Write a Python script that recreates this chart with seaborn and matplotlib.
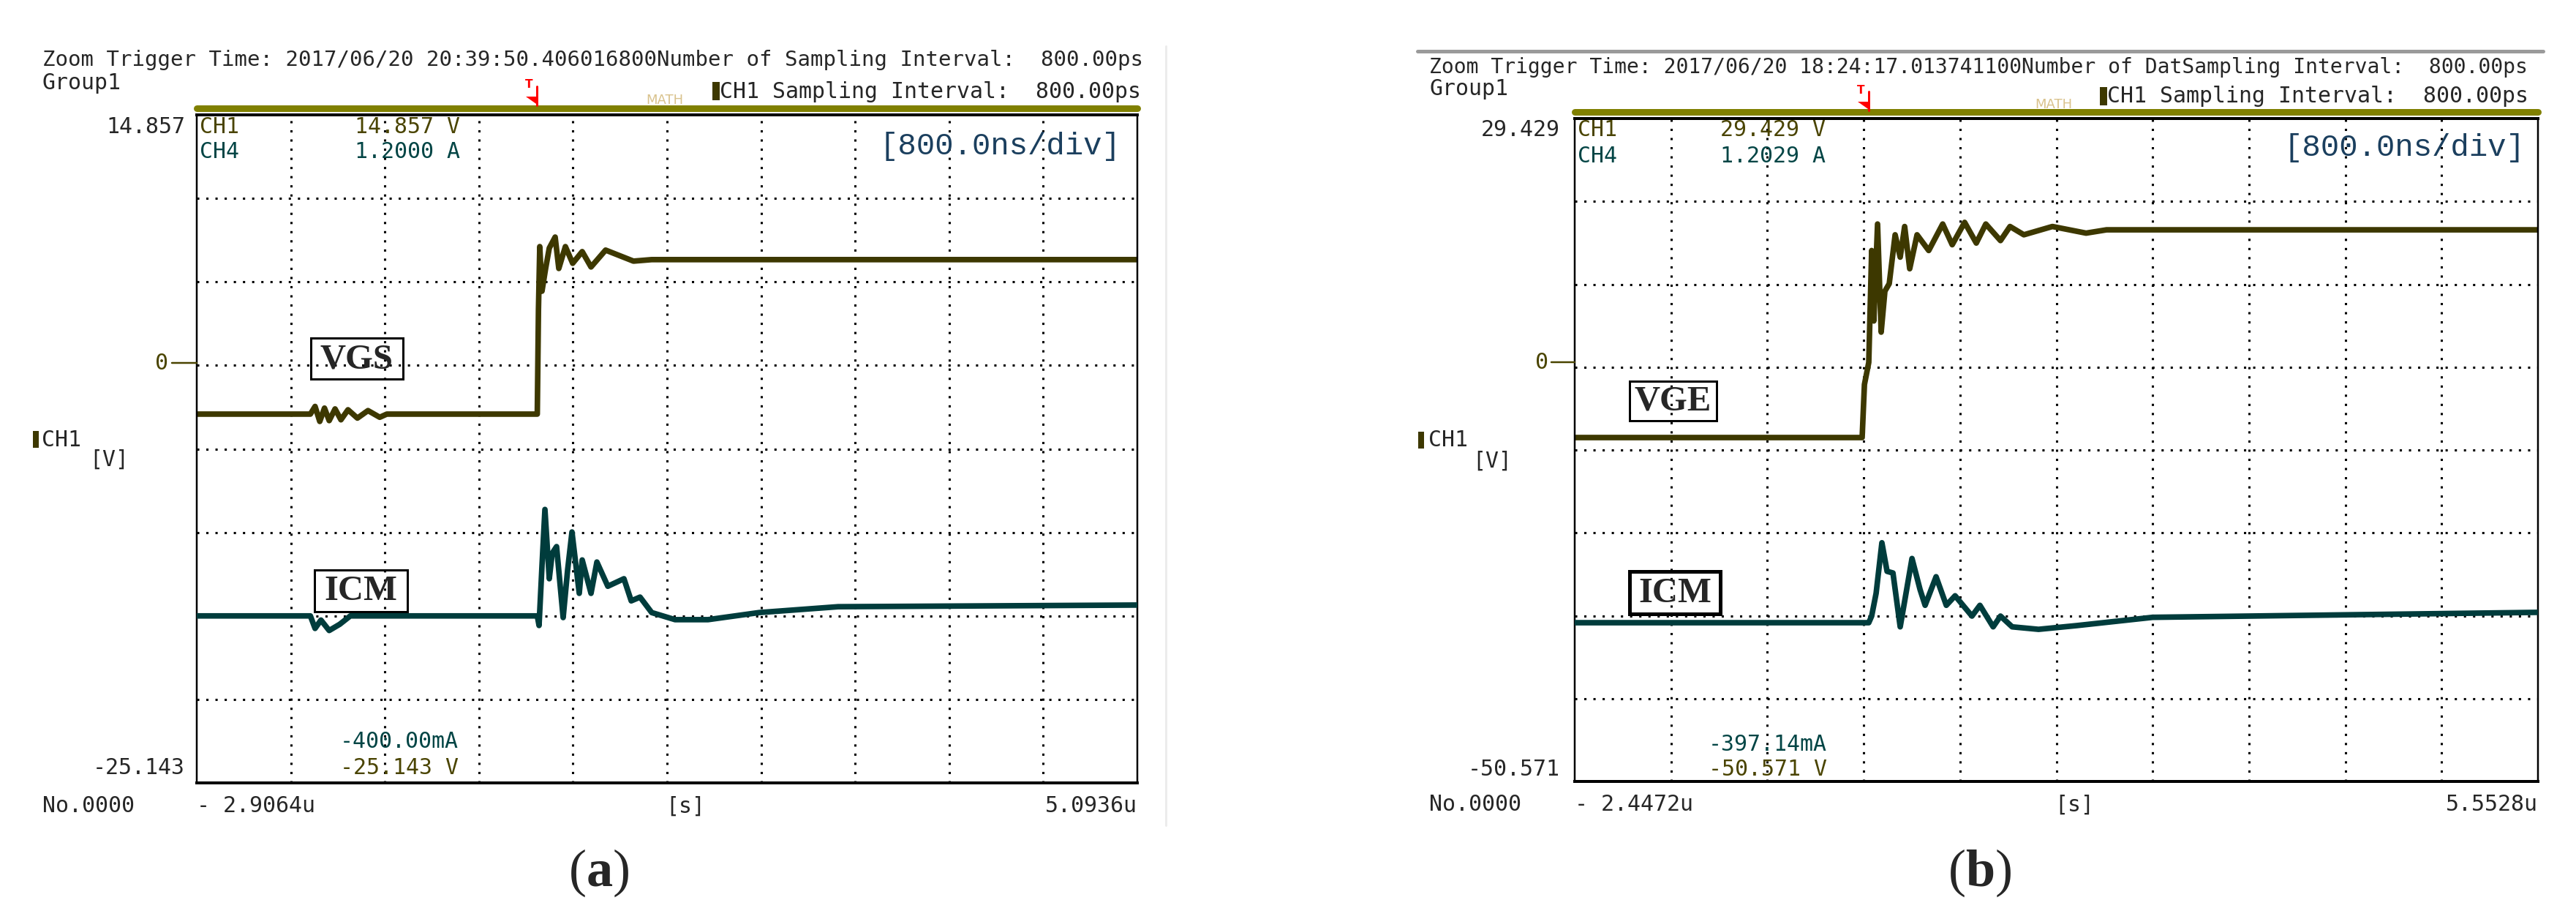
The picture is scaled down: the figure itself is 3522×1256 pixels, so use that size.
#!/usr/bin/env python3
"""Two scope captures of the turn-on transient: gate voltage (CH1) and
common-mode current (CH4), drawn as line plots on a scope-like screen.
"""

import matplotlib.pyplot as plt
import matplotlib.transforms as mtransforms
import pandas as pd
import seaborn as sns
from matplotlib.lines import Line2D
from matplotlib.patches import Polygon, Rectangle

W, H, DPI = 3522, 1256, 100
PT = 72 / DPI  # points per pixel

OLIVE_TRACE = "#3d3800"
TEAL_TRACE = "#003c3c"
OLIVE_TEXT = "#4a4400"
TEAL_TEXT = "#024545"
BAR = "#808000"
MONO = "DejaVu Sans Mono"
MONO_ADV = 0.602  # advance of one mono glyph, in em

# (a) CH1 = VGS [V], CH4 = ICM [A], time in us
A_TIME = [-2.9064, 5.0936]
A_VOLT = [-25.143, 14.857]
A_AMP = [-0.400, 1.2000]
A_VGS_T = [-2.9064, -1.94, -1.90, -1.86, -1.82, -1.78, -1.73, -1.68, -1.62,
           -1.54, -1.45, -1.35, -1.29, -0.01, 0.0, 0.011, 0.030, 0.061, 0.092,
           0.142, 0.173, 0.229, 0.291, 0.372, 0.447, 0.571, 0.808, 0.963,
           5.0936]
A_VGS_V = [-3.06, -3.06, -2.6, -3.5, -2.7, -3.45, -2.75, -3.4, -2.8, -3.3,
           -2.85, -3.25, -3.06, -3.06, 3.2, 6.97, 4.3, 5.66, 6.88, 7.54, 5.66,
           6.97, 5.97, 6.67, 5.75, 6.76, 6.10, 6.19, 6.19]
A_ICM_T = [-2.9064, -1.94, -1.90, -1.85, -1.78, -1.69, -1.60, -0.01, 0.005,
           0.030, 0.055, 0.092, 0.117, 0.154, 0.210, 0.248, 0.285, 0.347,
           0.372, 0.447, 0.497, 0.590, 0.727, 0.789, 0.864, 0.963, 1.162,
           1.442, 1.877, 2.549, 5.0936]
A_ICM_I = [0.0, 0.0, -0.03, -0.01, -0.035, -0.02, 0.0, 0.0, -0.023, 0.12,
           0.255, 0.089, 0.15, 0.166, -0.004, 0.11, 0.201, 0.054, 0.134, 0.054,
           0.129, 0.071, 0.089, 0.036, 0.045, 0.008, -0.009, -0.009, 0.008,
           0.022, 0.026]

# (b) CH1 = VGE [V], CH4 = ICM [A], time in us
B_TIME = [-2.4472, 5.5528]
B_VOLT = [-50.571, 29.429]
B_AMP = [-0.39714, 1.2029]
B_VGE_T = [-2.4472, -0.06, -0.041, -0.005, 0.019, 0.037, 0.068, 0.098, 0.129,
           0.165, 0.214, 0.256, 0.293, 0.335, 0.396, 0.493, 0.609, 0.688,
           0.791, 0.888, 0.967, 1.089, 1.168, 1.283, 1.520, 1.800, 1.97,
           5.5528]
B_VGE_V = [-9.07, -9.07, -2.67, 0.0, 13.5, 5.0, 16.7, 3.65, 8.6, 9.5, 15.4,
           12.7, 16.4, 11.3, 15.4, 13.5, 16.7, 14.2, 16.9, 14.4, 16.7, 14.7,
           16.4, 15.4, 16.4, 15.6, 16.0, 16.0]
B_ICM_T = [-2.4472, -0.005, 0.019, 0.056, 0.104, 0.147, 0.196, 0.232, 0.256,
           0.299, 0.354, 0.421, 0.463, 0.554, 0.639, 0.712, 0.852, 0.918,
           1.028, 1.089, 1.186, 1.405, 1.721, 2.353, 5.5528]
B_ICM_I = [-0.014, -0.014, 0.002, 0.057, 0.179, 0.110, 0.106, 0.028, -0.024,
           0.048, 0.141, 0.066, 0.028, 0.097, 0.028, 0.051, 0.002, 0.028,
           -0.024, 0.002, -0.024, -0.030, -0.021, -0.001, 0.011]

PANEL_A = {
    "box": (269, 157, 1555, 1070), "time": A_TIME, "volt": A_VOLT,
    "amp": A_AMP, "v": (A_VGS_T, A_VGS_V), "i": (A_ICM_T, A_ICM_I),
    "vname": "VGS", "vbox": (425, 462, 551, 518), "ibox": (430, 779, 557, 836),
    "ibox_lw": 3,
    "line1": "Zoom Trigger Time: 2017/06/20 20:39:50.406016800"
             "Number of Sampling Interval:  800.00ps",
    "left": 58, "right": 1560,
    "head": (82, 113, 125), "bar": 148, "trig": 727, "trig_y": 113,
    "math": (909, 137), "lab_x": 253, "top_y": 173, "ch4_y": 208,
    "val_x": 485, "top": ("14.857", "14.857 V", "1.2000 A"),
    "bot": ("-25.143", "-400.00mA", "-25.143 V"), "bot_xy": (465, 1013, 1050),
    "div": (1532, 200), "zero": (221, 235), "side": (45, 57, 601, 149, 628),
    "foot_y": 1102, "ends": ("- 2.9064u", "5.0936u"), "s_x": 937,
    "cap": (819, 1193, "a"),
}
PANEL_B = {
    "box": (2153, 162, 3470, 1068), "time": B_TIME, "volt": B_VOLT,
    "amp": B_AMP, "v": (B_VGE_T, B_VGE_V), "i": (B_ICM_T, B_ICM_I),
    "vname": "VGE", "vbox": (2228, 521, 2347, 575),
    "ibox": (2228, 781, 2352, 839), "ibox_lw": 5,
    "line1": "Zoom Trigger Time: 2017/06/20 18:24:17.013741100"
             "Number of DatSampling Interval:  800.00ps",
    "left": 1954, "right": 3457,
    "head": (92, 122, 132), "bar": 153, "trig": 2548, "trig_y": 120,
    "math": (2808, 143), "lab_x": 2133, "top_y": 178, "ch4_y": 213,
    "val_x": 2352, "top": ("29.429", "29.429 V", "1.2029 A"),
    "bot": ("-50.571", "-397.14mA", "-50.571 V"), "bot_xy": (2336, 1017, 1052),
    "div": (3452, 202), "zero": (2108, 2121), "side": (1939, 1953, 602, 2040, 630),
    "foot_y": 1100, "ends": ("- 2.4472u", "5.5528u"), "s_x": 2836,
    "cap": (2707, 1193, "b"),
}


def fx(x):
    return x / W


def fy(y):
    return 1 - y / H


def ftext(fig, x, y, s, **kw):
    kw.setdefault("va", "center")
    kw.setdefault("family", MONO)
    kw.setdefault("fontsize", 21.5)
    return fig.text(fx(x), fy(y), s, **kw)


def fline(fig, xs, ys, **kw):
    fig.add_artist(Line2D([fx(x) for x in xs], [fy(y) for y in ys],
                          transform=fig.transFigure, **kw))


def frect(fig, x0, y0, x1, y1, **kw):
    fig.add_artist(Rectangle((fx(x0), fy(y1)), fx(x1) - fx(x0),
                             fy(y0) - fy(y1), transform=fig.transFigure, **kw))


def draw_screen(fig, p):
    """Scope grid with both channels drawn by seaborn."""
    l, t, r, b = p["box"]
    ax = fig.add_axes([fx(l), fy(b), fx(r) - fx(l), fy(t) - fy(b)])
    ax2 = ax.twinx()
    vt, vv = p["v"]
    it, ii = p["i"]
    sns.lineplot(data=pd.DataFrame({"t": vt, "v": vv}), x="t", y="v", ax=ax,
                 color=OLIVE_TRACE, lw=5.5, estimator=None, sort=False)
    sns.lineplot(data=pd.DataFrame({"t": it, "i": ii}), x="t", y="i", ax=ax2,
                 color=TEAL_TRACE, lw=5.5, estimator=None, sort=False)
    t0, t1 = p["time"]
    v0, v1 = p["volt"]
    ax.set_xlim(t0, t1)
    ax.set_ylim(v0, v1)
    ax2.set_ylim(*p["amp"])
    # 10 x 8 divisions
    ax.set_xticks([t0 + (t1 - t0) / 10 * k for k in range(1, 10)])
    ax.set_yticks([v1 - (v1 - v0) / 8 * k for k in range(1, 8)])
    ax.grid(True, color="black", lw=2.2, linestyle=(0, (1, 3.1)))
    ax.tick_params(length=0, labelleft=False, labelbottom=False)
    ax2.set_yticks([])
    for a in (ax, ax2):
        a.set(xlabel="", ylabel="")
    for name, lw in (("top", 4), ("bottom", 4), ("left", 2.5), ("right", 2.5)):
        ax.spines[name].set_linewidth(lw * PT)
        ax.spines[name].set_color("black")
        ax2.spines[name].set_visible(False)
    ax.set_facecolor("white")
    return ax


def draw_panel(fig, p):
    l, t, r, b = p["box"]
    ax = draw_screen(fig, p)

    # header lines (first one squeezed to the screenshot's width)
    hy1, hy2, hy3 = p["head"]
    line1 = p["line1"]
    size1 = (p["right"] - p["left"]) / (len(line1) * MONO_ADV) * PT
    ftext(fig, p["left"], hy1, line1, fontsize=size1)
    ftext(fig, p["left"], hy2, "Group1")
    ftext(fig, p["right"], hy3, "CH1 Sampling Interval:  800.00ps", ha="right")
    frect(fig, p["right"] - 586, hy3 - 13, p["right"] - 576, hy3 + 12,
          color=OLIVE_TRACE, lw=0)

    # channel bar, trigger marker, math tag
    fline(fig, [l, r], [p["bar"], p["bar"]], color=BAR, lw=9 * PT,
          solid_capstyle="round")
    tx, ty = p["trig"], p["trig_y"]
    ftext(fig, tx - 4, ty + 3, "T", color="red", fontsize=11, ha="center",
          family="DejaVu Sans", weight="bold")
    fline(fig, [tx + 7, tx + 7], [ty + 5, ty + 31], color="red", lw=3 * PT)
    fig.add_artist(Polygon([(fx(tx - 8), fy(ty + 19)), (fx(tx + 9), fy(ty + 19)),
                            (fx(tx + 9), fy(ty + 31))], closed=True,
                           transform=fig.transFigure, color="red", lw=0))
    ftext(fig, *p["math"], "MATH", color="#d9c28c", fontsize=13,
          ha="center", family="DejaVu Sans")

    # scale readouts
    top_lab, ch1_top, ch4_top = p["top"]
    ftext(fig, p["lab_x"], p["top_y"], top_lab, ha="right")
    ftext(fig, l + 4, p["top_y"], "CH1", color=OLIVE_TEXT)
    ftext(fig, p["val_x"], p["top_y"], ch1_top, color=OLIVE_TEXT)
    ftext(fig, l + 4, p["ch4_y"], "CH4", color=TEAL_TEXT)
    ftext(fig, p["val_x"], p["ch4_y"], ch4_top, color=TEAL_TEXT)
    ftext(fig, p["div"][0], p["div"][1], "[800.0ns/div]", ha="right",
          color="#1b3f5e", fontsize=30.5, family="Liberation Mono")
    bot_lab, ch4_bot, ch1_bot = p["bot"]
    bx, by4, by1 = p["bot_xy"]
    ftext(fig, bx, by4, ch4_bot, color=TEAL_TEXT)
    ftext(fig, bx, by1, ch1_bot, color=OLIVE_TEXT)
    ftext(fig, p["lab_x"], by1, bot_lab, ha="right")

    # zero marker on the CH1 scale
    trans = mtransforms.blended_transform_factory(fig.transFigure, ax.transData)
    zx, zt = p["zero"]
    fig.text(fx(zx), 0, "0", transform=trans, ha="center", va="center",
             family=MONO, fontsize=21.5, color=OLIVE_TEXT)
    fig.add_artist(Line2D([fx(zt), fx(l)], [0, 0], transform=trans,
                          color=OLIVE_TEXT, lw=2.5 * PT))

    # side channel label
    rx, cx, cy, vx, vy = p["side"]
    frect(fig, rx, cy - 12, rx + 8, cy + 11, color=OLIVE_TRACE, lw=0)
    ftext(fig, cx, cy, "CH1")
    ftext(fig, vx, vy, "[V]", ha="center")

    # time axis footer
    fyy = p["foot_y"]
    ftext(fig, p["left"], fyy, "No.0000")
    ftext(fig, l, fyy, p["ends"][0])
    ftext(fig, p["s_x"], fyy, "[s]", ha="center")
    ftext(fig, r, fyy, p["ends"][1], ha="right")

    # boxed trace names
    for (x0, y0, x1, y1), name, lw in ((p["vbox"], p["vname"], 3),
                                       (p["ibox"], "ICM", p["ibox_lw"])):
        frect(fig, x0, y0, x1, y1, fill=False, ec="black", lw=lw * PT)
        ftext(fig, (x0 + x1) / 2, (y0 + y1) / 2 + 1, name, ha="center",
              family="Liberation Serif", weight="bold", fontsize=35)

    # sub-figure caption
    cx, cy, letter = p["cap"]
    ftext(fig, cx, cy, rf"($\mathbf{{{letter}}}$)", ha="center",
          family="Liberation Serif", fontsize=52)


def main():
    sns.set_style("white")
    plt.rcParams["font.family"] = [MONO, "DejaVu Sans"]
    plt.rcParams["mathtext.fontset"] = "custom"
    plt.rcParams["mathtext.rm"] = "Liberation Serif"
    plt.rcParams["mathtext.bf"] = "Liberation Serif:bold"

    fig = plt.figure(figsize=(W / DPI, H / DPI), dpi=DPI)
    fig.patch.set_facecolor("white")
    for p in (PANEL_A, PANEL_B):
        draw_panel(fig, p)
    # faint frame leftovers of the screenshots
    fline(fig, [1594, 1594], [63, 1128], color="#ececec", lw=3 * PT)
    fline(fig, [1938, 3477], [70, 70], color="#9a9a9a", lw=5 * PT)

    fig.savefig("out.png", dpi=DPI)


if __name__ == "__main__":
    main()
